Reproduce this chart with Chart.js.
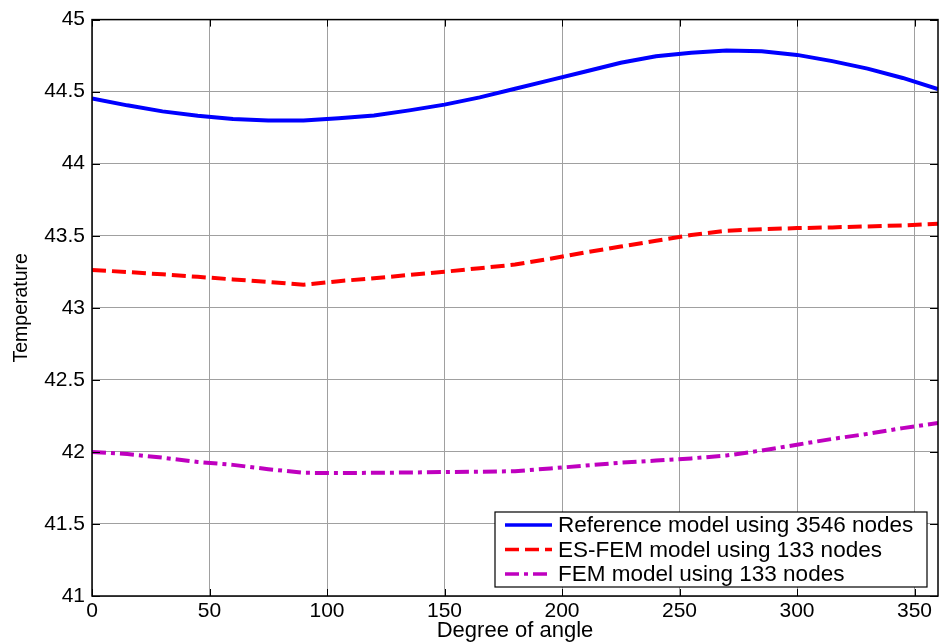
<!DOCTYPE html>
<html>
<head>
<meta charset="utf-8">
<style>
  html, body { margin: 0; padding: 0; background: #fff; }
  #wrap { width: 941px; height: 644px; }
</style>
<script src="https://cdn.jsdelivr.net/npm/chart.js@4/dist/chart.umd.min.js"></script>
</head>
<body>
<div id="wrap"><canvas id="chart"></canvas></div>
<script>
;(function () {
	"use strict"

	// Values (every 15 degrees).
	var ANGLES = [0, 15, 30, 45, 60, 75, 90, 105, 120, 135, 150, 165, 180, 195, 210, 225, 240, 255, 270, 285, 300, 315, 330, 345, 360]
	var REFERENCE = [44.453, 44.405, 44.363, 44.332, 44.311, 44.300, 44.300, 44.315, 44.335, 44.370, 44.410, 44.460, 44.520, 44.580, 44.640, 44.700, 44.745, 44.770, 44.785, 44.780, 44.755, 44.712, 44.660, 44.595, 44.518]
	var ESFEM = [43.263, 43.248, 43.232, 43.215, 43.197, 43.180, 43.160, 43.185, 43.205, 43.228, 43.250, 43.275, 43.300, 43.340, 43.385, 43.425, 43.465, 43.505, 43.535, 43.545, 43.553, 43.558, 43.565, 43.572, 43.583]
	var FEM = [42.000, 41.985, 41.960, 41.930, 41.910, 41.880, 41.855, 41.853, 41.855, 41.857, 41.860, 41.862, 41.866, 41.885, 41.905, 41.925, 41.940, 41.955, 41.975, 42.010, 42.050, 42.090, 42.125, 42.165, 42.200]

	var X_TICKS = [0, 50, 100, 150, 200, 250, 300, 350]
	var Y_TICKS = [41, 41.5, 42, 42.5, 43, 43.5, 44, 44.5, 45]

	var SERIES = [
		{ label: "Reference model using 3546 nodes", values: REFERENCE, color: "#0000ff", dash: [] },
		{ label: "ES-FEM model using 133 nodes", values: ESFEM, color: "#ff0000", dash: [14, 6] },
		{ label: "FEM model using 133 nodes", values: FEM, color: "#bf00bf", dash: [14, 5, 4, 5] },
	]

	var FONT = '"Liberation Sans", Arial, sans-serif'
	var GRID = "#a0a0a0"

	function points(values) {
		return ANGLES.map(function (a, i) {
			return { x: a, y: values[i] }
		})
	}

	function setTicks(list) {
		return function (scale) {
			scale.ticks = list.map(function (v) {
				return { value: v }
			})
		}
	}

	// Box round the plot, inward tick marks and the in-plot legend.
	var framePlugin = {
		id: "frame",
		afterDraw: function (chart) {
			var ctx = chart.ctx
			var a = chart.chartArea
			var xs = chart.scales.x
			var ys = chart.scales.y
			ctx.save()
			ctx.strokeStyle = "#000"
			ctx.lineWidth = 1.5
			ctx.strokeRect(a.left, a.top, a.right - a.left, a.bottom - a.top)
			ctx.lineWidth = 1
			ctx.beginPath()
			X_TICKS.forEach(function (v) {
				var px = Math.round(xs.getPixelForValue(v)) + 0.5
				ctx.moveTo(px, a.bottom)
				ctx.lineTo(px, a.bottom - 7)
				ctx.moveTo(px, a.top)
				ctx.lineTo(px, a.top + 7)
			})
			Y_TICKS.forEach(function (v) {
				var py = Math.round(ys.getPixelForValue(v)) + 0.5
				ctx.moveTo(a.left, py)
				ctx.lineTo(a.left + 8, py)
				ctx.moveTo(a.right, py)
				ctx.lineTo(a.right - 8, py)
			})
			ctx.stroke()

			// legend
			var bx = 495, by = 512, bw = 432, bh = 75
			ctx.fillStyle = "#fff"
			ctx.fillRect(bx, by, bw, bh)
			ctx.strokeStyle = "#000"
			ctx.lineWidth = 1.2
			ctx.strokeRect(bx, by, bw, bh)
			ctx.font = "22.5px " + FONT
			ctx.textBaseline = "middle"
			SERIES.forEach(function (s, i) {
				var y = 525 + i * 24.5
				ctx.strokeStyle = s.color
				ctx.lineWidth = 3.5
				ctx.setLineDash(s.dash)
				ctx.beginPath()
				ctx.moveTo(505, y)
				ctx.lineTo(552, y)
				ctx.stroke()
				ctx.setLineDash([])
				ctx.fillStyle = "#000"
				ctx.fillText(s.label, 558, y + 1)
			})
			ctx.restore()
		},
	}

	new Chart(document.getElementById("chart"), {
		type: "line",
		data: {
			datasets: SERIES.map(function (s) {
				return {
					label: s.label,
					data: points(s.values),
					borderColor: s.color,
					backgroundColor: s.color,
					borderWidth: 4,
					borderDash: s.dash,
					pointRadius: 0,
					tension: 0,
					fill: false,
				}
			}),
		},
		options: {
			responsive: true,
			maintainAspectRatio: false,
			animation: false,
			layout: { padding: { top: 18, right: 3, left: 0, bottom: 0 } },
			plugins: {
				legend: { display: false },
				tooltip: { enabled: false },
			},
			scales: {
				x: {
					type: "linear",
					min: 0,
					max: 360,
					afterBuildTicks: setTicks(X_TICKS),
					afterFit: function (s) {
						s.height = 48
					},
					grid: { color: GRID, drawTicks: false },
					border: { display: false },
					ticks: {
						color: "#000",
						font: { family: FONT, size: 21 },
						padding: 3,
						maxRotation: 0,
					},
					title: {
						display: true,
						text: "Degree of angle",
						color: "#000",
						font: { family: FONT, size: 22 },
						padding: { top: 0, bottom: 0 },
					},
				},
				y: {
					min: 41,
					max: 45,
					afterBuildTicks: setTicks(Y_TICKS),
					afterFit: function (s) {
						s.width = 92
					},
					grid: { color: GRID, drawTicks: false },
					border: { display: false },
					ticks: {
						color: "#000",
						font: { family: FONT, size: 21 },
						padding: 7,
						callback: function (v) {
							return String(v)
						},
					},
					title: {
						display: true,
						text: "Temperature",
						color: "#000",
						font: { family: FONT, size: 19.5 },
						padding: { top: 10, bottom: 4 },
					},
				},
			},
		},
		plugins: [framePlugin],
	})
})()
</script>
</body>
</html>
